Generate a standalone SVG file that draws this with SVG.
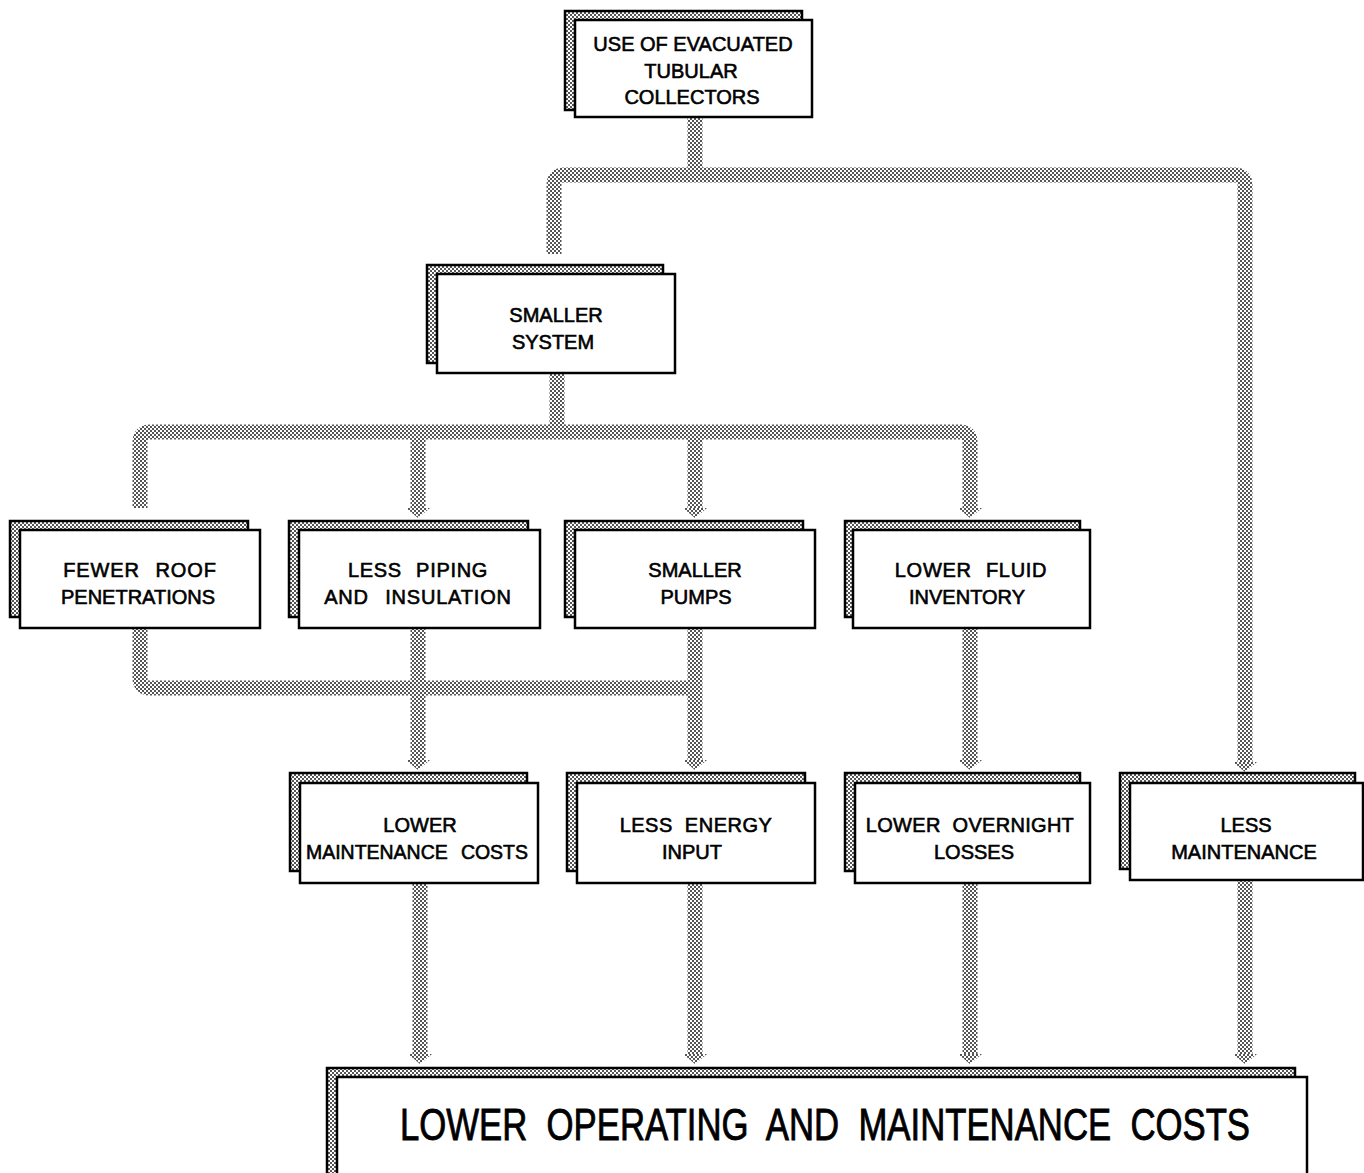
<svg xmlns="http://www.w3.org/2000/svg" width="1364" height="1173" viewBox="0 0 1364 1173">
<defs>
  <pattern id="stip" width="4" height="4" patternUnits="userSpaceOnUse">
    <rect width="4" height="4" fill="#fff"/>
    <rect x="0" y="0" width="2" height="2" fill="#555"/>
    <rect x="2" y="2" width="2" height="2" fill="#555"/>
  </pattern>
  <marker id="ah" markerUnits="userSpaceOnUse" orient="auto" refX="0" refY="0" markerWidth="12" markerHeight="26" viewBox="0 -13 12 26" overflow="visible">
    <path d="M0,-12 L10,0 L0,12 Z" fill="url(#stip)"/>
  </marker>
  <style>
    .back { fill: url(#stip); stroke: #000; stroke-width: 2.5; }
    .front { fill: #fff; stroke: #000; stroke-width: 2.5; }
    .t { font-family: "Liberation Sans", Arial, sans-serif; font-size: 20px; fill: #000; stroke: #000; stroke-width: 0.6; text-anchor: middle; }
    .big { font-size: 36px; stroke-width: 0.7; }
    .c { fill: none; stroke: url(#stip); stroke-width: 15; stroke-linejoin: round; }
    .a { marker-end: url(#ah); }
  </style>
</defs>
<rect width="1364" height="1173" fill="#fff"/>

<g id="connectors">
  <path class="c" d="M695,118 V175"/>
  <path class="c a" d="M554,254 V185 Q554,175 564,175 H1235 Q1245,175 1245,185 V762"/>
  <path class="c" d="M557,373 V432"/>
  <path class="c a" d="M140,508 V442 Q140,432 150,432 H960 Q970,432 970,442 V508"/>
  <path class="c a" d="M418,432 V508"/>
  <path class="c a" d="M695,432 V508"/>
  <path class="c" d="M140,628 V678 Q140,688 150,688 H695"/>
  <path class="c a" d="M418,628 V760"/>
  <path class="c a" d="M695,628 V760"/>
  <path class="c a" d="M970,628 V760"/>
  <path class="c a" d="M420,883 V1054"/>
  <path class="c a" d="M695,883 V1054"/>
  <path class="c a" d="M970,883 V1054"/>
  <path class="c a" d="M1245,880 V1054"/>
</g>

<g id="n-evacuated">
  <rect class="back" x="565" y="11" width="237" height="99"/>
  <rect class="front" x="575" y="20" width="237" height="97"/>
  <text class="t" x="693" y="51">USE OF EVACUATED</text>
  <text class="t" x="691" y="78">TUBULAR</text>
  <text class="t" x="692" y="104">COLLECTORS</text>
</g>

<g id="n-smaller-system">
  <rect class="back" x="427" y="265" width="236" height="98"/>
  <rect class="front" x="437" y="274" width="238" height="99"/>
  <text class="t" x="556" y="322">SMALLER</text>
  <text class="t" x="553" y="349">SYSTEM</text>
</g>

<g id="n-roof">
  <rect class="back" x="10" y="521" width="238" height="96"/>
  <rect class="front" x="20" y="530" width="240" height="98"/>
  <text class="t" x="140" y="577" word-spacing="9" letter-spacing="0.9">FEWER ROOF</text>
  <text class="t" x="138" y="604">PENETRATIONS</text>
</g>

<g id="n-piping">
  <rect class="back" x="289" y="521" width="239" height="96"/>
  <rect class="front" x="299" y="530" width="241" height="98"/>
  <text class="t" x="418" y="577" word-spacing="8" letter-spacing="0.7">LESS PIPING</text>
  <text class="t" x="418" y="604" word-spacing="10" letter-spacing="0.8">AND INSULATION</text>
</g>

<g id="n-pumps">
  <rect class="back" x="565" y="521" width="238" height="96"/>
  <rect class="front" x="575" y="530" width="240" height="98"/>
  <text class="t" x="695" y="577">SMALLER</text>
  <text class="t" x="696" y="604">PUMPS</text>
</g>

<g id="n-fluid">
  <rect class="back" x="845" y="521" width="235" height="96"/>
  <rect class="front" x="853" y="530" width="237" height="98"/>
  <text class="t" x="971" y="577" word-spacing="8" letter-spacing="0.7">LOWER FLUID</text>
  <text class="t" x="967" y="604">INVENTORY</text>
</g>

<g id="n-maint-costs">
  <rect class="back" x="290" y="773" width="237" height="98"/>
  <rect class="front" x="300" y="783" width="238" height="100"/>
  <text class="t" x="420" y="832">LOWER</text>
  <text class="t" x="417" y="859" textLength="222" lengthAdjust="spacingAndGlyphs" word-spacing="8">MAINTENANCE COSTS</text>
</g>

<g id="n-energy">
  <rect class="back" x="567" y="773" width="238" height="98"/>
  <rect class="front" x="577" y="783" width="238" height="100"/>
  <text class="t" x="696" y="832" word-spacing="6" letter-spacing="0.5">LESS ENERGY</text>
  <text class="t" x="692" y="859">INPUT</text>
</g>

<g id="n-overnight">
  <rect class="back" x="845" y="773" width="235" height="98"/>
  <rect class="front" x="855" y="783" width="235" height="100"/>
  <text class="t" x="970" y="832" word-spacing="6" letter-spacing="0.3">LOWER OVERNIGHT</text>
  <text class="t" x="974" y="859">LOSSES</text>
</g>

<g id="n-less-maint">
  <rect class="back" x="1120" y="773" width="235" height="96"/>
  <rect class="front" x="1130" y="783" width="233" height="97"/>
  <text class="t" x="1246" y="832">LESS</text>
  <text class="t" x="1244" y="859">MAINTENANCE</text>
</g>

<g id="n-bottom">
  <rect class="back" x="327" y="1068" width="968" height="120"/>
  <rect class="front" x="337" y="1077" width="970" height="110"/>
  <text class="t big" transform="translate(825,1140) scale(1,1.25)" x="0" y="0" textLength="850" lengthAdjust="spacingAndGlyphs" word-spacing="10">LOWER OPERATING AND MAINTENANCE COSTS</text>
</g>
</svg>
